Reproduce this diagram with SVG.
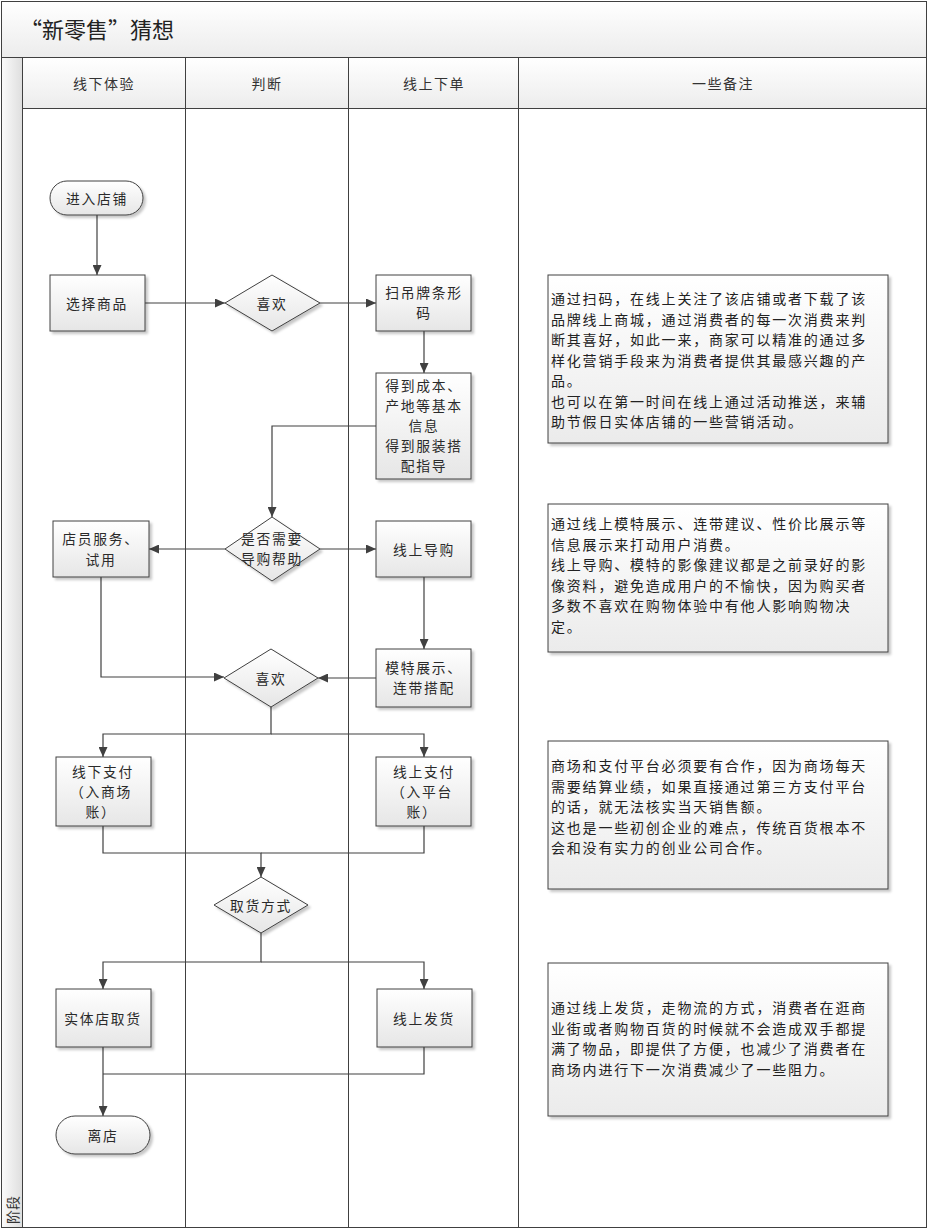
<svg xmlns="http://www.w3.org/2000/svg" width="928" height="1230" viewBox="0 0 928 1230">
<defs>
<linearGradient id="gNode" x1="0" y1="0" x2="0" y2="1">
<stop offset="0" stop-color="#ffffff"/>
<stop offset="1" stop-color="#e6e6e6"/>
</linearGradient>
<linearGradient id="gNote" x1="0" y1="0" x2="0" y2="1">
<stop offset="0" stop-color="#ffffff"/>
<stop offset="1" stop-color="#ebebeb"/>
</linearGradient>
<linearGradient id="gBand" x1="0" y1="0" x2="0" y2="1">
<stop offset="0" stop-color="#ffffff"/>
<stop offset="1" stop-color="#ececec"/>
</linearGradient>
<linearGradient id="gStrip" x1="0" y1="0" x2="1" y2="0">
<stop offset="0" stop-color="#fbfbfb"/>
<stop offset="1" stop-color="#dedede"/>
</linearGradient>
<filter id="shadow" x="-10%" y="-10%" width="125%" height="125%">
<feDropShadow dx="2.5" dy="2.5" stdDeviation="1.2" flood-color="#000" flood-opacity="0.22"/>
</filter>
<marker id="arrow" markerUnits="userSpaceOnUse" markerWidth="11" markerHeight="9" refX="10" refY="4.5" orient="auto">
<path d="M0,0 L10,4.5 L0,9 z" fill="#404040"/>
</marker>
</defs>
<style>
.node{fill:url(#gNode);stroke:#404040;stroke-width:1;filter:url(#shadow)}
.note{fill:url(#gNote);stroke:#404040;stroke-width:1;filter:url(#shadow)}
.t{font-family:"Noto Sans CJK SC","Noto Sans CJK JP",sans-serif;font-size:13.8px;fill:#2a2a2a;text-anchor:middle;dominant-baseline:central;letter-spacing:1.7px}
.h{font-family:"Noto Sans CJK SC","Noto Sans CJK JP",sans-serif;font-size:14px;fill:#333;text-anchor:middle;dominant-baseline:central;letter-spacing:1.5px}
.n{font-family:"Noto Sans CJK SC","Noto Sans CJK JP",sans-serif;font-size:14px;fill:#222;dominant-baseline:central;letter-spacing:1.8px}
.c{fill:none;stroke:#404040;stroke-width:1.2}
.ca{fill:none;stroke:#404040;stroke-width:1.2;marker-end:url(#arrow)}
</style>

<g id="pool">
<rect x="1.5" y="1.5" width="925" height="56" fill="url(#gBand)" stroke="#404040"/>
<text x="20" y="28" font-family="'Noto Sans CJK SC','Noto Sans CJK JP',sans-serif" font-size="22" fill="#222" dominant-baseline="central">“新零售”猜想</text>
<rect x="1.5" y="57.5" width="21" height="1170" fill="url(#gStrip)" stroke="#404040"/>
<text transform="translate(12,1210) rotate(-90)" font-family="'Noto Sans CJK SC','Noto Sans CJK JP',sans-serif" font-size="14" fill="#333" text-anchor="middle" dominant-baseline="central">阶段</text>
<rect x="22.5" y="57.5" width="904" height="51" fill="url(#gBand)" stroke="#404040"/>
<rect x="22.5" y="108.5" width="904" height="1119" fill="#ffffff" stroke="#404040"/>
<line x1="185.5" y1="57.5" x2="185.5" y2="1227.5" stroke="#404040"/>
<line x1="348.5" y1="57.5" x2="348.5" y2="1227.5" stroke="#404040"/>
<line x1="518.5" y1="57.5" x2="518.5" y2="1227.5" stroke="#404040"/>
<text class="h" x="104" y="83">线下体验</text>
<text class="h" x="267" y="83">判断</text>
<text class="h" x="434" y="83">线上下单</text>
<text class="h" x="723" y="83">一些备注</text>
</g>

<g id="connectors">
<path class="ca" d="M97,215 V275"/>
<path class="ca" d="M145,303 H225"/>
<path class="ca" d="M320,303 H376"/>
<path class="ca" d="M424,331 V373"/>
<path class="ca" d="M376,426 H272 V517"/>
<path class="ca" d="M225,549 H149"/>
<path class="ca" d="M320,549 H376"/>
<path class="ca" d="M101,577 V677 H224"/>
<path class="ca" d="M424,577 V649"/>
<path class="ca" d="M376,678 H318"/>
<path class="ca" d="M271,707 V734 H103 V757"/>
<path class="ca" d="M271,734 H424 V757"/>
<path class="ca" d="M103,826 V853 H261 V877"/>
<path class="c" d="M424,826 V853 H261"/>
<path class="ca" d="M261,933 V962 H103 V989"/>
<path class="ca" d="M261,962 H424 V989"/>
<path class="ca" d="M103,1047 V1116"/>
<path class="c" d="M424,1047 V1074 H103"/>
</g>

<g id="n-enter">
<rect class="node" x="50" y="181" width="93" height="34" rx="17" ry="17"/>
<text class="t" x="97" y="198">进入店铺</text>
</g>
<g id="n-select">
<rect class="node" x="50" y="275" width="95" height="56"/>
<text class="t" x="97" y="303">选择商品</text>
</g>
<g id="n-like1">
<polygon class="node" points="272,275 320,303 272,331 225,303"/>
<text class="t" x="272" y="303">喜欢</text>
</g>
<g id="n-scan">
<rect class="node" x="376" y="275" width="95" height="56"/>
<text class="t" x="424" y="292">扫吊牌条形</text>
<text class="t" x="424" y="312">码</text>
</g>
<g id="n-info">
<rect class="node" x="376" y="373" width="95" height="106"/>
<text class="t" x="424" y="385">得到成本、</text>
<text class="t" x="424" y="405">产地等基本</text>
<text class="t" x="424" y="425">信息</text>
<text class="t" x="424" y="445">得到服装搭</text>
<text class="t" x="424" y="465">配指导</text>
</g>
<g id="n-need">
<polygon class="node" points="272,517 320,549 272,581 225,549"/>
<text class="t" x="272" y="538">是否需要</text>
<text class="t" x="272" y="558">导购帮助</text>
</g>
<g id="n-staff">
<rect class="node" x="53" y="521" width="96" height="56"/>
<text class="t" x="101" y="538">店员服务、</text>
<text class="t" x="101" y="559">试用</text>
</g>
<g id="n-guide">
<rect class="node" x="376" y="521" width="95" height="56"/>
<text class="t" x="424" y="549">线上导购</text>
</g>
<g id="n-like2">
<polygon class="node" points="271,649 318,678 271,707 224,678"/>
<text class="t" x="271" y="678">喜欢</text>
</g>
<g id="n-model">
<rect class="node" x="376" y="649" width="95" height="58"/>
<text class="t" x="424" y="667">模特展示、</text>
<text class="t" x="424" y="687">连带搭配</text>
</g>
<g id="n-payoff">
<rect class="node" x="56" y="757" width="95" height="69"/>
<text class="t" x="103" y="771">线下支付</text>
<text class="t" x="101" y="791">（入商场</text>
<text class="t" x="101" y="811">账）</text>
</g>
<g id="n-payon">
<rect class="node" x="376" y="757" width="95" height="69"/>
<text class="t" x="424" y="771">线上支付</text>
<text class="t" x="422" y="791">（入平台</text>
<text class="t" x="422" y="811">账）</text>
</g>
<g id="n-pickup">
<polygon class="node" points="261,877 308,905 261,933 214,905"/>
<text class="t" x="261" y="905">取货方式</text>
</g>
<g id="n-store">
<rect class="node" x="56" y="989" width="95" height="58"/>
<text class="t" x="103" y="1018">实体店取货</text>
</g>
<g id="n-ship">
<rect class="node" x="377" y="989" width="95" height="58"/>
<text class="t" x="424" y="1018">线上发货</text>
</g>
<g id="n-leave">
<rect class="node" x="56" y="1116" width="94" height="38" rx="19" ry="19"/>
<text class="t" x="103" y="1135">离店</text>
</g>

<g id="note1">
<rect class="note" x="548" y="275" width="340" height="168"/>
<text class="n" x="551" y="298">通过扫码，在线上关注了该店铺或者下载了该</text>
<text class="n" x="551" y="318.5">品牌线上商城，通过消费者的每一次消费来判</text>
<text class="n" x="551" y="339">断其喜好，如此一来，商家可以精准的通过多</text>
<text class="n" x="551" y="359.5">样化营销手段来为消费者提供其最感兴趣的产</text>
<text class="n" x="551" y="380">品。</text>
<text class="n" x="551" y="400.5">也可以在第一时间在线上通过活动推送，来辅</text>
<text class="n" x="551" y="421">助节假日实体店铺的一些营销活动。</text>
</g>
<g id="note2">
<rect class="note" x="548" y="504" width="340" height="148"/>
<text class="n" x="551" y="523">通过线上模特展示、连带建议、性价比展示等</text>
<text class="n" x="551" y="543.5">信息展示来打动用户消费。</text>
<text class="n" x="551" y="564">线上导购、模特的影像建议都是之前录好的影</text>
<text class="n" x="551" y="584.5">像资料，避免造成用户的不愉快，因为购买者</text>
<text class="n" x="551" y="605">多数不喜欢在购物体验中有他人影响购物决</text>
<text class="n" x="551" y="625.5">定。</text>
</g>
<g id="note3">
<rect class="note" x="548" y="741" width="340" height="148"/>
<text class="n" x="551" y="765">商场和支付平台必须要有合作，因为商场每天</text>
<text class="n" x="551" y="785.5">需要结算业绩，如果直接通过第三方支付平台</text>
<text class="n" x="551" y="806">的话，就无法核实当天销售额。</text>
<text class="n" x="551" y="826.5">这也是一些初创企业的难点，传统百货根本不</text>
<text class="n" x="551" y="847">会和没有实力的创业公司合作。</text>
</g>
<g id="note4">
<rect class="note" x="548" y="963" width="340" height="153"/>
<text class="n" x="551" y="1007">通过线上发货，走物流的方式，消费者在逛商</text>
<text class="n" x="551" y="1027.5">业街或者购物百货的时候就不会造成双手都提</text>
<text class="n" x="551" y="1048">满了物品，即提供了方便，也减少了消费者在</text>
<text class="n" x="551" y="1068.5">商场内进行下一次消费减少了一些阻力。</text>
</g>
</svg>
